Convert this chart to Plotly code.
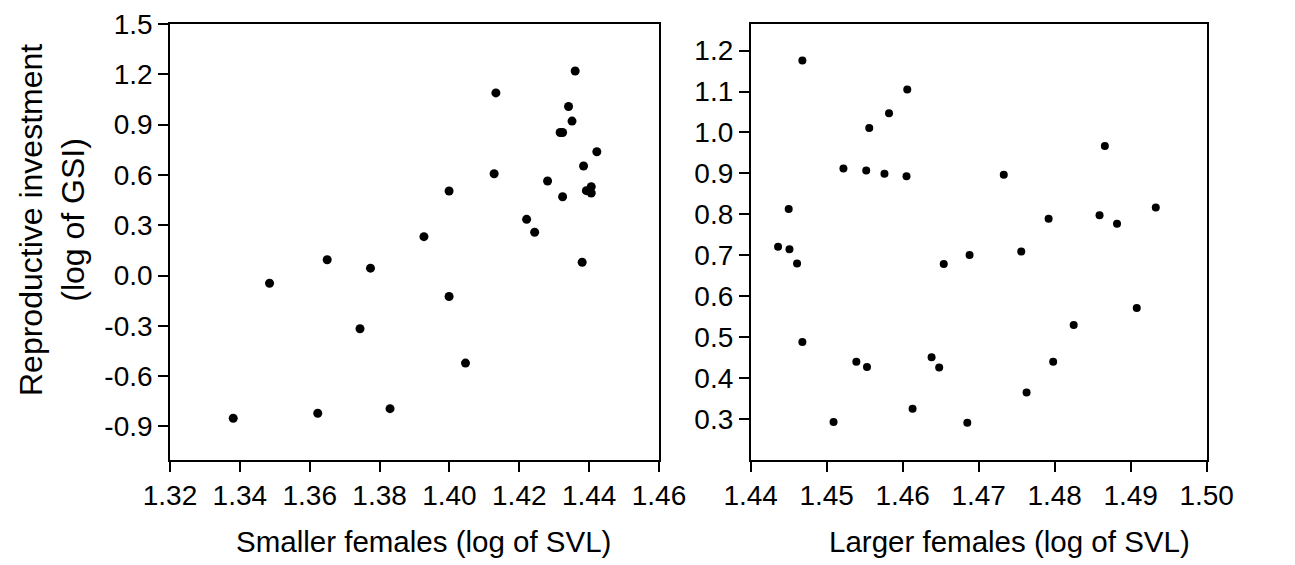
import plotly.graph_objects as go

# Smaller females (left panel)
small_svl = [1.4360, 1.4133, 1.4341, 1.4351, 1.4317, 1.4324, 1.4422, 1.4384, 1.4128,
             1.4281, 1.4406, 1.4392, 1.4406, 1.4324, 1.3999, 1.4221, 1.4244, 1.3927,
             1.3650, 1.3485, 1.3774, 1.4380, 1.3999, 1.3744, 1.4046, 1.3830, 1.3623, 1.3381]
small_gsi = [1.220, 1.089, 1.008, 0.921, 0.853, 0.853, 0.738, 0.653, 0.607,
             0.564, 0.530, 0.506, 0.492, 0.470, 0.504, 0.335, 0.258, 0.232,
             0.094, -0.046, 0.044, 0.079, -0.125, -0.317, -0.522, -0.794, -0.821, -0.851]

# Larger females (right panel)
large_svl = [1.4468, 1.4606, 1.4582, 1.4556, 1.4522, 1.4552, 1.4576, 1.4605, 1.4733,
             1.4866, 1.4450, 1.4792, 1.4859, 1.4882, 1.4933, 1.4436, 1.4451, 1.4461,
             1.4468, 1.4654, 1.4688, 1.4756, 1.4908, 1.4825, 1.4798, 1.4539, 1.4553,
             1.4638, 1.4648, 1.4763, 1.4613, 1.4509, 1.4685]
large_gsi = [1.176, 1.105, 1.047, 1.011, 0.912, 0.907, 0.899, 0.893, 0.897,
             0.967, 0.813, 0.789, 0.798, 0.777, 0.817, 0.721, 0.715, 0.680,
             0.488, 0.679, 0.701, 0.709, 0.571, 0.530, 0.440, 0.440, 0.427,
             0.451, 0.426, 0.365, 0.325, 0.293, 0.291]

left_y_ticks = [-0.9, -0.6, -0.3, 0.0, 0.3, 0.6, 0.9, 1.2, 1.5]
left_y_labels = ["-0.9", "-0.6", "-0.3", "0.0", "0.3", "0.6", "0.9", "1.2", "1.5"]
left_x_ticks = [1.32, 1.34, 1.36, 1.38, 1.40, 1.42, 1.44, 1.46]
left_x_labels = ["1.32", "1.34", "1.36", "1.38", "1.40", "1.42", "1.44", "1.46"]
right_y_ticks = [0.3, 0.4, 0.5, 0.6, 0.7, 0.8, 0.9, 1.0, 1.1, 1.2]
right_y_labels = ["0.3", "0.4", "0.5", "0.6", "0.7", "0.8", "0.9", "1.0", "1.1", "1.2"]
right_x_ticks = [1.44, 1.45, 1.46, 1.47, 1.48, 1.49, 1.50]
right_x_labels = ["1.44", "1.45", "1.46", "1.47", "1.48", "1.49", "1.50"]

W, H = 1295, 565
FONT = "Liberation Sans, Arial, sans-serif"

fig = go.Figure()
fig.add_trace(go.Scatter(x=small_svl, y=small_gsi, mode="markers",
                         marker=dict(color="black", size=9), xaxis="x", yaxis="y",
                         showlegend=False))
fig.add_trace(go.Scatter(x=large_svl, y=large_gsi, mode="markers",
                         marker=dict(color="black", size=8), xaxis="x2", yaxis="y2",
                         showlegend=False))

axis_common = dict(showline=True, linecolor="black", linewidth=1.6, mirror=True,
                   ticks="outside", ticklen=10, tickwidth=1.6, tickcolor="black",
                   showgrid=False, zeroline=False, automargin=False,
                   tickfont=dict(family=FONT, size=28, color="black"))

ydom = [(H - 460) / H, (H - 24) / H]

fig.update_layout(
    width=W, height=H,
    margin=dict(l=0, r=0, t=0, b=0, autoexpand=False),
    paper_bgcolor="white", plot_bgcolor="white",
    xaxis=dict(domain=[170 / W, 659 / W], range=[1.32, 1.46],
               tickvals=left_x_ticks, ticktext=left_x_labels, anchor="y", **axis_common),
    yaxis=dict(domain=ydom, range=[-1.1, 1.5],
               tickvals=left_y_ticks, ticktext=left_y_labels, anchor="x", **axis_common),
    xaxis2=dict(domain=[750.7 / W, 1206.7 / W], range=[1.44, 1.50],
                tickvals=right_x_ticks, ticktext=right_x_labels, anchor="y2", **axis_common),
    yaxis2=dict(domain=ydom, range=[0.2, 1.265],
                tickvals=right_y_ticks, ticktext=right_y_labels, anchor="x2", **axis_common),
    annotations=[
        dict(text="Smaller females (log of SVL)", x=423 / W, y=(H - 541) / H,
             xref="paper", yref="paper", showarrow=False, xanchor="center", yanchor="middle",
             font=dict(family=FONT, size=29.5, color="black")),
        dict(text="Larger females (log of SVL)", x=1009 / W, y=(H - 541) / H,
             xref="paper", yref="paper", showarrow=False, xanchor="center", yanchor="middle",
             font=dict(family=FONT, size=29.5, color="black")),
        dict(text="Reproductive investment<br>(log of GSI)", x=52 / W, y=(H - 220) / H,
             xref="paper", yref="paper", showarrow=False, xanchor="center", yanchor="middle",
             textangle=-90, font=dict(family=FONT, size=32, color="black")),
    ],
)

fig.write_html("out.html")
